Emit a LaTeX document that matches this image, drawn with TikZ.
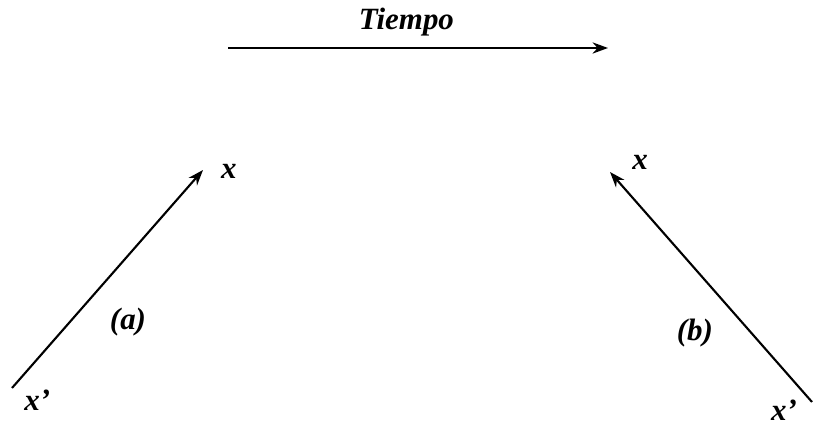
\documentclass[tikz,border=0pt]{standalone}
\usepackage{fontspec}
\setmainfont{Liberation Serif}
\usetikzlibrary{arrows.meta}

\begin{document}
\begin{tikzpicture}[
  every node/.style={font=\bfseries\itshape, inner sep=1pt},
  label/.style={font=\fontsize{22}{26}\selectfont\bfseries\itshape},
  arrow/.style={-{Stealth[length=11pt, width=8pt]}, line width=1.5pt},
]
  \useasboundingbox (0,0) rectangle (20.375,10.675);

  % Time arrow
  \coordinate (t0) at (5.7,9.475);
  \coordinate (t1) at (15.2,9.475);
  \node (tiempo) [label] at (10.16,10.12) {Tiempo};
  \draw[arrow] (t0) -- (t1);

  % Case (a)
  \coordinate (a0) at (0.3,0.975);
  \coordinate (a1) at (5.075,6.425);
  \node (xa)  [label] at (5.72,6.38) {x};
  \node (xpa) [label] at (0.93,0.66) {x’};
  \node (na)  [label] at (3.2,2.62) {(a)};
  \draw[arrow] (a0) -- (a1);

  % Case (b)
  \coordinate (b0) at (20.3,0.625);
  \coordinate (b1) at (15.25,6.375);
  \node (xb)  [label] at (16.0,6.62) {x};
  \node (xpb) [label] at (19.6,0.43) {x’};
  \node (nb)  [label] at (17.37,2.36) {(b)};
  \draw[arrow] (b0) -- (b1);

\end{tikzpicture}
\end{document}
